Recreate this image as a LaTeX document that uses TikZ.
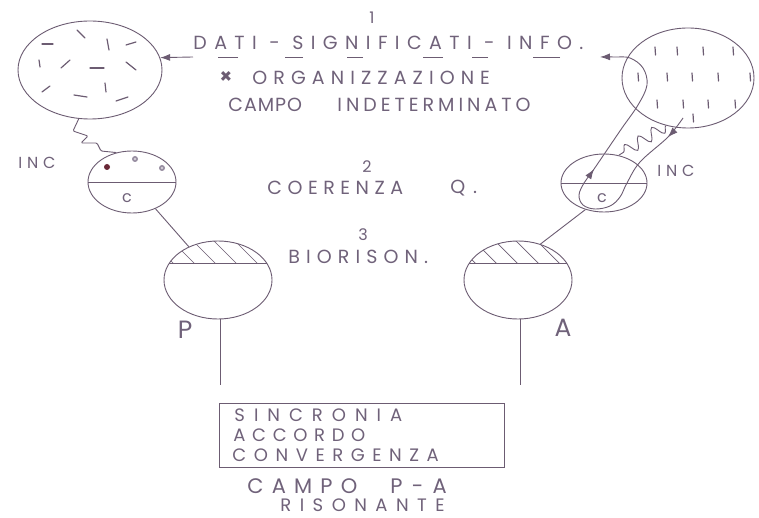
\documentclass[tikz,border=0pt]{standalone}
\usepackage{fontspec}
\setmainfont{Poppins}
\newfontfamily\hand{Poppins}
\newcommand{\lsp}[1]{\addfontfeatures{LetterSpace=#1}}
\usetikzlibrary{shapes.geometric,arrows.meta,decorations.pathmorphing,decorations.markings}
\definecolor{ink}{RGB}{108,92,114}
\definecolor{txt}{RGB}{112,98,122}
\definecolor{dotred}{RGB}{105,40,55}
\definecolor{dotgrey}{RGB}{150,140,160}
\tikzset{arr/.tip={Latex[length=10pt,width=7pt]}}
\begin{document}
\begin{tikzpicture}[x=1pt,y=-1pt,line width=0.9pt,draw=ink,
  oval/.style={draw=ink,ellipse,inner sep=0pt},
  lbl/.style={text=txt,inner sep=0pt,anchor=west,font=\hand\fontsize{19}{19}\selectfont},
  clbl/.style={lbl,anchor=center},
  small/.style={clbl,font=\hand\fontsize{16}{16}\selectfont\lsp{30}},
  hatchline/.style={line width=0.7pt,draw=ink},
  penstroke/.style={line width=1.2pt,draw=ink,line cap=round}]
\useasboundingbox (0,0) rectangle (759,518);
\fill[white] (0,0) rectangle (759,518);
% main shapes
\node[oval,minimum width=144pt,minimum height=98pt] (bigL) at (90,70) {};
\node[oval,minimum width=132pt,minimum height=100pt] (bigR) at (688,78) {};
\node[oval,minimum width=88pt,minimum height=62pt] (incL) at (132,182) {};
\node[oval,minimum width=86pt,minimum height=58pt] (incR) at (604,183) {};
\node[oval,minimum width=108pt,minimum height=78pt] (P) at (218,280) {};
\node[oval,minimum width=108pt,minimum height=78pt] (A) at (518,280) {};
\node[draw=ink,rectangle,minimum width=285pt,minimum height=64pt,inner sep=0pt] (box) at (361.5,435) {};
% inner dividing lines
\draw (incL.west) -- (incL.east);
\draw (incR.west) -- (incR.east);
\draw (169.4,263) -- (266.6,263);
\draw (469.4,263) -- (566.6,263);
% hatching
\begin{scope}
\clip (218,280) ellipse [x radius=54, y radius=39];
\clip (150,230) rectangle (290,263);
\foreach \x in {146,167,188,209,230,251} \draw[hatchline] (\x,236) -- ++(28,28);
\end{scope}
\begin{scope}
\clip (518,280) ellipse [x radius=54, y radius=39];
\clip (450,230) rectangle (590,263);
\foreach \x in {448,469,490,511,532,553} \draw[hatchline] (\x,236) -- ++(28,28);
\end{scope}
% dots
\fill[dotred] (107,167) circle (3pt);
\fill[dotgrey] (135,159) circle (3pt);
\fill[white!60!dotgrey] (135,159) circle (1.3pt);
\fill[dotgrey] (162,168) circle (3pt);
\fill[white!60!dotgrey] (162,168) circle (1.3pt);
% marks in left ellipse
\foreach \a/\b/\c/\d in {77/30/85/38, 107/39/109/50, 126/45/136/42, 42/44/53/44, 39/60/40/67, 61/68/70/60, 90/68/104/68, 126/62/136/70, 42/92/50/86, 105/83/106/92, 74/95/87/97, 116/101/128/97}
  \draw[penstroke] (\a,\b) -- (\c,\d);
% marks in right ellipse
\foreach \x/\y in {655/47,677/47,703/47,733/47,638/73,667/73,692/73,718/73,750/73,657/100,683/100,708/100,735/100,693/114}
  \draw[penstroke] (\x,\y) -- ++(0.5,8);
% connectors
\draw (incL) -- (P);
\draw (incR.235) -- (A.58);
\coordinate (pend) at (220,385);
\coordinate (aend) at (520,385);
\draw (P.south -| pend) -- (pend);
\draw (A.south -| aend) -- (aend);
% dashed arrow line under the title
\coordinate (dstart) at (560,57);
\coordinate (dmid) at (193,57);
\draw[dash pattern=on 27pt off 45pt on 16pt off 29pt on 20pt off 60pt on 16pt off 44pt on 18pt off 47pt on 20pt off 30pt] (dstart) -- (dmid);
\draw[-arr] (dmid) -- (bigL.10);
% zigzag left
\draw[rounded corners=1.2pt] (bigL.257) -- (73,131) -- (88,136) -- (81,143) -- (97,143) -- (101,151) -- (incL.118);
% wavy right
\draw[decorate,decoration={snake,amplitude=6pt,segment length=16pt}] (bigR.245) -- (incR.62);
% loop on the right
\coordinate (looptip) at (600,57);
\draw[-arr,postaction={decorate},
  decoration={markings,
    mark=at position 0.07 with {\arrow{arr}},
    mark=at position 0.53 with {\arrow{arr}}}]
  plot[smooth,tension=0.6] coordinates {(683,118) (668,137) (640,162) (627,183) (620,197) (610,206) (595,209) (583,205) (579,195) (584,183) (592,172) (607,150) (622,128) (638,105) (647,85) (643,68) (630,58) (615,57) (looptip)};
% texts
\node[small] (n1) at (372,18) {1};
\node[lbl,font=\hand\fontsize{19}{19}\selectfont\lsp{39}] (t1) at (193,43) {DATI - SIGNIFICATI - INFO.};
\node[clbl,text=ink,font=\bfseries\fontsize{20}{20}\selectfont] (tx) at (226,78) {×};
\node[lbl,font=\hand\fontsize{19}{19}\selectfont\lsp{32}] (t2) at (252,78) {ORGANIZZAZIONE};
\node[lbl,font=\hand\fontsize{19}{19}\selectfont\lsp{5}] (t3a) at (228,105) {CAMPO};
\node[lbl,font=\hand\fontsize{19}{19}\selectfont\lsp{21}] (t3b) at (337,105) {INDETERMINATO};
\node[small] (n2) at (367,167) {2};
\node[lbl,font=\hand\fontsize{19}{19}\selectfont\lsp{29}] (t4a) at (267,188) {COERENZA};
\node[lbl,font=\hand\fontsize{19}{19}\selectfont\lsp{40}] (t4b) at (450,188) {Q.};
\node[small] (n3) at (363,235) {3};
\node[lbl,font=\hand\fontsize{19}{19}\selectfont\lsp{32}] (t5) at (288,257) {BIORISON.};
\node[small] (incLl) at (37,163) {INC};
\node[small,anchor=west] (incRl) at (657,171) {INC};
\node[small] (cL) at (127,198) {c};
\node[small] (cR) at (602,198) {c};
\node[clbl,font=\hand\fontsize{25}{25}\selectfont] (Pl) at (185,330) {P};
\node[clbl,font=\hand\fontsize{25}{25}\selectfont] (Al) at (563,328) {A};
\node[lbl,font=\hand\fontsize{18}{18}\selectfont\lsp{50}] (b1) at (234,415) {SINCRONIA};
\node[lbl,font=\hand\fontsize{18}{18}\selectfont\lsp{37}] (b2) at (233,435) {ACCORDO};
\node[lbl,font=\hand\fontsize{18}{18}\selectfont\lsp{42}] (b3) at (232,455) {CONVERGENZA};
\node[lbl,font=\hand\fontsize{21}{21}\selectfont\lsp{39}] (c1a) at (247,486) {CAMPO};
\node[lbl,font=\hand\fontsize{21}{21}\selectfont\lsp{44}] (c1b) at (390,486) {P-A};
\node[lbl,font=\hand\fontsize{18}{18}\selectfont\lsp{47}] (c2) at (280,505) {RISONANTE};
\end{tikzpicture}
\end{document}
